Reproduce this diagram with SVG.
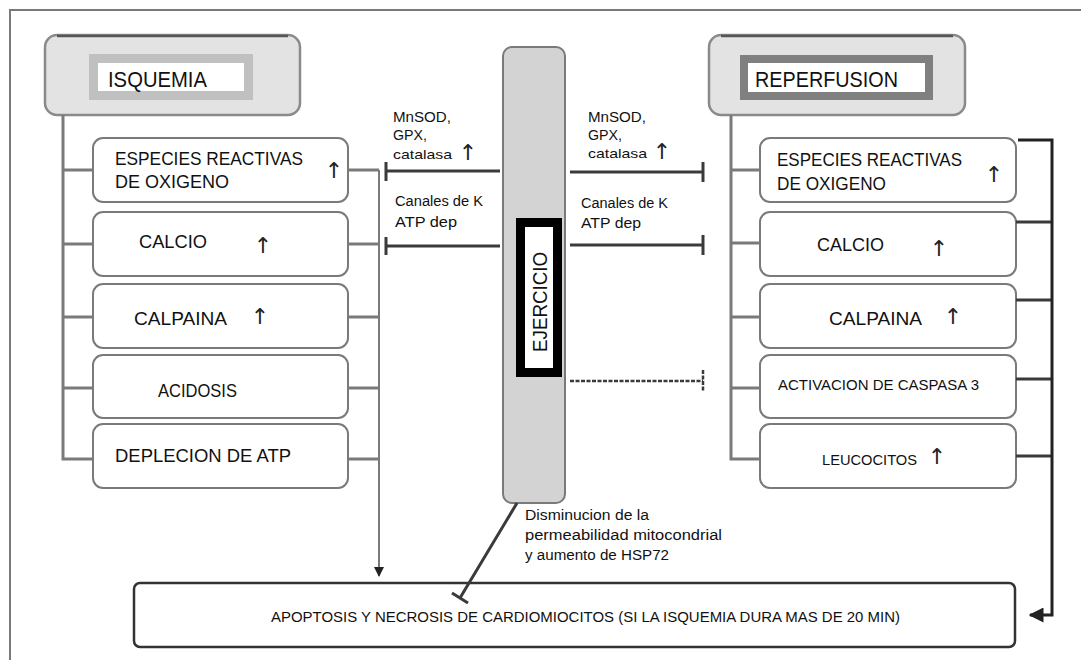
<svg xmlns="http://www.w3.org/2000/svg" width="1081" height="660" viewBox="0 0 1081 660">
<defs>
<marker id="ah" viewBox="0 0 10 10" refX="9" refY="5" markerWidth="5" markerHeight="5" orient="auto" markerUnits="strokeWidth">
<path d="M0,0 L10,5 L0,10 z" fill="#222"/>
</marker>
<style>
.t{font-family:"Liberation Sans",Arial,sans-serif;fill:#111}
.b{font-size:19px}
.s{font-size:14px}
.h{font-size:22px}
.ar{font-family:"DejaVu Sans",sans-serif;fill:#222;font-size:22px}
.box{fill:#fff;stroke:#7a7a7a;stroke-width:2}
.hdr{fill:#e3e3e3;stroke:#8a8a8a;stroke-width:2.5}
.gl{fill:none;stroke:#7a7a7a;stroke-width:3}
.dl{fill:none;stroke:#3a3a3a;stroke-width:3}
</style>
</defs>
<rect width="1081" height="660" fill="#fff"/>
<path d="M10,660 V10 H1081" fill="none" stroke="#7a7a7a" stroke-width="2"/>

<g id="isquemia">
<rect class="hdr" x="45" y="35" width="255" height="80" rx="12"/>
<path d="M57,36 H288" stroke="#555" stroke-width="2.5"/>
<rect x="93.5" y="58.5" width="155" height="37" fill="#fff" stroke="#c0c0c0" stroke-width="9"/>
<text class="t h" x="108" y="87" textLength="99" lengthAdjust="spacingAndGlyphs">ISQUEMIA</text>
</g>

<g id="reperfusion">
<rect class="hdr" x="709" y="35" width="256" height="80" rx="12"/>
<path d="M721,36 H953" stroke="#555" stroke-width="2.5"/>
<rect x="744" y="59" width="185" height="37" fill="#fff" stroke="#808080" stroke-width="8"/>
<text class="t h" x="755" y="87" textLength="143" lengthAdjust="spacingAndGlyphs">REPERFUSION</text>
</g>

<g id="ejercicio">
<rect x="503" y="47" width="62" height="456" rx="9" fill="#d3d3d3" stroke="#7a7a7a" stroke-width="2"/>
<rect x="520.5" y="222.5" width="37" height="150" fill="#fff" stroke="#000" stroke-width="9"/>
<text class="t" font-size="21" transform="translate(547,302) rotate(-90)" text-anchor="middle" textLength="100" lengthAdjust="spacingAndGlyphs">EJERCICIO</text>
</g>

<g id="l-ros">
<rect class="box" x="93" y="138" width="255" height="64" rx="10"/>
<text class="t b" x="115" y="165" textLength="188" lengthAdjust="spacingAndGlyphs">ESPECIES REACTIVAS</text>
<text class="t b" x="115" y="188" textLength="114" lengthAdjust="spacingAndGlyphs">DE OXIGENO</text>
<text class="ar" x="334" y="178" text-anchor="middle">↑</text>
</g>
<g id="l-calcio">
<rect class="box" x="93" y="212" width="255" height="64" rx="10"/>
<text class="t b" x="139" y="248" textLength="68" lengthAdjust="spacingAndGlyphs">CALCIO</text>
<text class="ar" x="263" y="253" text-anchor="middle">↑</text>
</g>
<g id="l-calpaina">
<rect class="box" x="93" y="284" width="255" height="64" rx="10"/>
<text class="t b" x="134" y="325" textLength="93" lengthAdjust="spacingAndGlyphs">CALPAINA</text>
<text class="ar" x="260" y="324" text-anchor="middle">↑</text>
</g>
<g id="l-acidosis">
<rect class="box" x="93" y="355" width="255" height="63" rx="10"/>
<text class="t b" x="158" y="397" textLength="79" lengthAdjust="spacingAndGlyphs">ACIDOSIS</text>
</g>
<g id="l-atp">
<rect class="box" x="93" y="424" width="255" height="64" rx="10"/>
<text class="t b" x="115" y="462" textLength="176" lengthAdjust="spacingAndGlyphs">DEPLECION DE ATP</text>
</g>

<g id="r-ros">
<rect class="box" x="760" y="138" width="256" height="64" rx="10"/>
<text class="t b" x="777" y="166" textLength="185" lengthAdjust="spacingAndGlyphs">ESPECIES REACTIVAS</text>
<text class="t b" x="777" y="190" textLength="109" lengthAdjust="spacingAndGlyphs">DE OXIGENO</text>
<text class="ar" x="994" y="182" text-anchor="middle">↑</text>
</g>
<g id="r-calcio">
<rect class="box" x="760" y="212" width="256" height="64" rx="10"/>
<text class="t b" x="817" y="251" textLength="67" lengthAdjust="spacingAndGlyphs">CALCIO</text>
<text class="ar" x="939" y="256" text-anchor="middle">↑</text>
</g>
<g id="r-calpaina">
<rect class="box" x="760" y="284" width="256" height="64" rx="10"/>
<text class="t b" x="829" y="325" textLength="93" lengthAdjust="spacingAndGlyphs">CALPAINA</text>
<text class="ar" x="953" y="324" text-anchor="middle">↑</text>
</g>
<g id="r-caspasa">
<rect class="box" x="760" y="355" width="256" height="63" rx="10"/>
<text class="t s" x="778" y="390" textLength="201" lengthAdjust="spacingAndGlyphs">ACTIVACION DE CASPASA 3</text>
</g>
<g id="r-leucocitos">
<rect class="box" x="760" y="424" width="256" height="64" rx="10"/>
<text class="t s" x="822" y="465" textLength="95" lengthAdjust="spacingAndGlyphs">LEUCOCITOS</text>
<text class="ar" x="937" y="464" text-anchor="middle">↑</text>
</g>

<g id="apoptosis">
<rect x="134" y="583" width="881" height="64" rx="6" fill="#fff" stroke="#333" stroke-width="2.5"/>
<text class="t s" x="271" y="622" textLength="629" lengthAdjust="spacingAndGlyphs">APOPTOSIS Y NECROSIS DE CARDIOMIOCITOS (SI LA ISQUEMIA DURA MAS DE 20 MIN)</text>
</g>

<g id="labels">
<text class="t s" x="393" y="122" textLength="58" lengthAdjust="spacingAndGlyphs">MnSOD,</text>
<text class="t s" x="393" y="140" textLength="34" lengthAdjust="spacingAndGlyphs">GPX,</text>
<text class="t" font-size="13" x="393" y="159" textLength="59" lengthAdjust="spacingAndGlyphs">catalasa</text>
<text class="ar" font-size="17" x="468" y="160" text-anchor="middle">↑</text>
<text class="t s" x="395" y="206" textLength="88" lengthAdjust="spacingAndGlyphs">Canales de K</text>
<text class="t s" x="395" y="227" textLength="62" lengthAdjust="spacingAndGlyphs">ATP dep</text>
<text class="t s" x="588" y="122" textLength="58" lengthAdjust="spacingAndGlyphs">MnSOD,</text>
<text class="t s" x="588" y="140" textLength="34" lengthAdjust="spacingAndGlyphs">GPX,</text>
<text class="t" font-size="13" x="588" y="158" textLength="59" lengthAdjust="spacingAndGlyphs">catalasa</text>
<text class="ar" font-size="17" x="662" y="159" text-anchor="middle">↑</text>
<text class="t s" x="581" y="208" textLength="87" lengthAdjust="spacingAndGlyphs">Canales de K</text>
<text class="t s" x="581" y="228" textLength="60" lengthAdjust="spacingAndGlyphs">ATP dep</text>
<text class="t s" x="525" y="520" textLength="124" lengthAdjust="spacingAndGlyphs">Disminucion de la</text>
<text class="t s" x="525" y="540" textLength="197" lengthAdjust="spacingAndGlyphs">permeabilidad mitocondrial</text>
<text class="t s" x="525" y="560" textLength="144" lengthAdjust="spacingAndGlyphs">y aumento de HSP72</text>
</g>

<g id="connectors">
<path class="gl" d="M63,115 V459 H93 M63,170 H93 M63,244 H93 M63,317 H93 M63,388 H93"/>
<path class="gl" d="M348,170 H379 M348,244 H379 M348,317 H379 M348,388 H379 M348,459 H379"/>
<path d="M379,170 V576" fill="none" stroke="#7a7a7a" stroke-width="2" marker-end="url(#ah)"/>
<path class="dl" d="M500,171 H386 M386,162 V181 M500,246 H386 M386,237 V255"/>
<path class="dl" d="M570,172 H703 M703,162 V182 M570,245 H703 M703,235 V255"/>
<path d="M570,381 H703 M703,370 V391" fill="none" stroke="#3a3a3a" stroke-width="2.5" stroke-dasharray="4,1.5"/>
<path class="gl" d="M731,115 V459 H760 M731,170 H760 M731,243 H760 M731,317 H760 M731,388 H760"/>
<path class="dl" d="M1016,222 H1052 M1016,300 H1052 M1016,379 H1052 M1016,456 H1052"/>
<path d="M1018,140 H1052 V615 H1030" fill="none" stroke="#222" stroke-width="3" marker-end="url(#ah)"/>
<path class="dl" d="M517,503 L460,598 M452,593 L468,603"/>
</g>
</svg>
